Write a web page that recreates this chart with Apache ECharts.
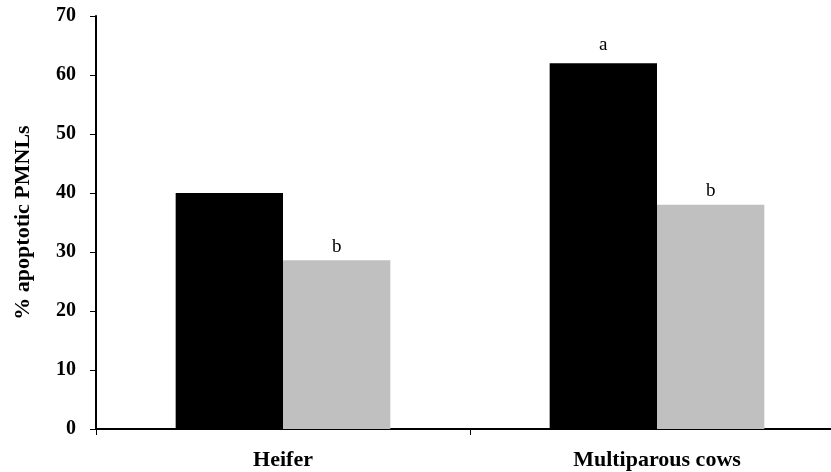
<!DOCTYPE html>
<html><head><meta charset="utf-8">
<script src="https://cdn.jsdelivr.net/npm/echarts@6/dist/echarts.min.js"></script>
<style>html,body{margin:0;padding:0;background:#fff;overflow:hidden;width:831px;height:472px}#c{width:844px;height:472px}</style>
</head><body><div id="c"></div>
<script>
var categories = ['Heifer', 'Multiparous cows'];
var seriesA = [40, 62];
var seriesB = [28.6, 38];
var labelsA = ['', 'a'];
var labelsB = ['b', 'b'];
var yTicks = [0, 10, 20, 30, 40, 50, 60, 70];

var serif = '"Liberation Serif", "Times New Roman", serif';
var chart = echarts.init(document.getElementById('c'));
function lbl(arr, dist){
  return {show:true, position:'top', distance:dist, color:'#000', fontFamily:serif, fontSize:19,
    formatter:function(p){return arr[p.dataIndex];}};
}
chart.setOption({
  animation:false,
  grid:{left:96, right:0, top:16, bottom:43, containLabel:false},
  xAxis:{type:'category', data:categories,
    axisLine:{lineStyle:{color:'#000', width:2}},
    axisTick:{show:true, length:6, lineStyle:{color:'#000', width:1}},
    axisLabel:{color:'#000', fontFamily:serif, fontWeight:'bold', fontSize:22, margin:20}},
  yAxis:{type:'value', min:yTicks[0], max:yTicks[yTicks.length-1], interval:10,
    name:'% apoptotic PMNLs', nameLocation:'middle', nameGap:62, nameRotate:90,
    nameTextStyle:{color:'#000', fontFamily:serif, fontWeight:'bold', fontSize:22},
    axisLine:{show:true, lineStyle:{color:'#000', width:2}},
    axisTick:{show:true, length:6, lineStyle:{color:'#000', width:1}},
    splitLine:{show:false},
    axisLabel:{color:'#000', fontFamily:serif, fontWeight:'bold', fontSize:20, margin:20}},
  series:[
    {type:'bar', data:seriesA, itemStyle:{color:'#000'}, barGap:'0%', barCategoryGap:'42.6%', label:lbl(labelsA, 9)},
    {type:'bar', data:seriesB, itemStyle:{color:'#c0c0c0'}, label:lbl(labelsB, 4)}
  ]
});
</script></body></html>
